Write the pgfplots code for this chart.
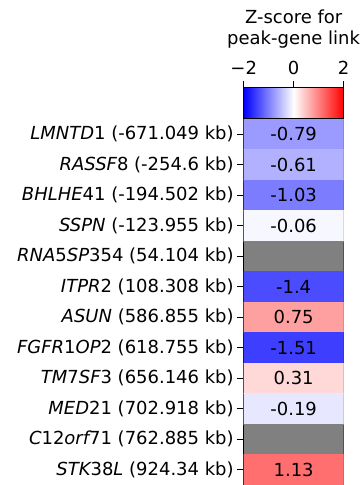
\documentclass[border=0pt]{standalone}
\usepackage{fontspec}
\setmainfont{DejaVu Sans}
\usepackage{pgfplots}
\usepgfplotslibrary{patchplots}
\pgfplotsset{compat=1.18}

\begin{document}
\begin{tikzpicture}[font=\fontsize{18}{21.6}\selectfont]
\begin{axis}[
  at={(0,0)}, anchor=south west,
  scale only axis, width=100pt, height=366.6pt,
  xmin=0, xmax=1, ymin=0, ymax=12, y dir=reverse,
  xtick=\empty,
  ytick={0.5,1.5,...,11.5},
  yticklabels={
    {\itshape LMNTD}1 (-671.049 kb),
    {\itshape RASSF}8 (-254.6 kb),
    {\itshape BHLHE}41 (-194.502 kb),
    {\itshape SSPN} (-123.955 kb),
    {\itshape RNA}5{\itshape SP}354 (54.104 kb),
    {\itshape ITPR}2 (108.308 kb),
    {\itshape ASUN} (586.855 kb),
    {\itshape FGFR}1{\itshape OP}2 (618.755 kb),
    {\itshape TM}7{\itshape SF}3 (656.146 kb),
    {\itshape MED}21 (702.918 kb),
    {\itshape C}12{\itshape orf}71 (762.885 kb),
    {\itshape STK}38{\itshape L} (924.34 kb)},
  ytick pos=left, tick align=outside, major tick length=6.5pt,
  axis line style={line width=1pt, black},
  every tick/.style={line width=1pt, black},
  colormap={bwr}{rgb=(0,0,1) rgb=(1,1,1) rgb=(1,0,0)},
  point meta min=-2, point meta max=2,
  colorbar horizontal,
  colorbar/width=31pt,
  colorbar style={
    at={(0,1)}, anchor=south west, yshift=4.4pt,
    width=100pt,
    xtick={-2,0,2}, xticklabels={−2,0,2},
    xtick pos=upper, xticklabel pos=upper,
    xticklabel style={yshift=3pt},
    tick align=outside, major tick length=6.5pt,
    axis line style={line width=1pt, black},
    every tick/.style={line width=1pt, black},
    ytick=\empty,
    title={Z-score for\\peak-gene link},
    title style={at={(0.5,1)}, anchor=south, yshift=33pt, inner sep=0pt, align=center},
  },
]
% coloured cells: four corners per gene, all carrying its z-score
\addplot[patch, patch type=rectangle, shader=flat, point meta=explicit] table[meta=z] {
x y z
0 0 -0.79
1 0 -0.79
1 1 -0.79
0 1 -0.79
0 1 -0.61
1 1 -0.61
1 2 -0.61
0 2 -0.61
0 2 -1.03
1 2 -1.03
1 3 -1.03
0 3 -1.03
0 3 -0.06
1 3 -0.06
1 4 -0.06
0 4 -0.06
0 5 -1.4
1 5 -1.4
1 6 -1.4
0 6 -1.4
0 6 0.75
1 6 0.75
1 7 0.75
0 7 0.75
0 7 -1.51
1 7 -1.51
1 8 -1.51
0 8 -1.51
0 8 0.31
1 8 0.31
1 9 0.31
0 9 0.31
0 9 -0.19
1 9 -0.19
1 10 -0.19
0 10 -0.19
0 11 1.13
1 11 1.13
1 12 1.13
0 12 1.13
};
% genes without a z-score
\addplot[fill=gray, draw=none] coordinates {(0,4) (1,4) (1,5) (0,5)} -- cycle;
\addplot[fill=gray, draw=none] coordinates {(0,10) (1,10) (1,11) (0,11)} -- cycle;
% value annotations
\addplot[draw=none, mark=none, point meta=explicit symbolic,
  nodes near coords, nodes near coords style={anchor=center, text=black}]
  table[meta=label] {
x y label
0.5 0.5 -0.79
0.5 1.5 -0.61
0.5 2.5 -1.03
0.5 3.5 -0.06
0.5 5.5 -1.4
0.5 6.5 0.75
0.5 7.5 -1.51
0.5 8.5 0.31
0.5 9.5 -0.19
0.5 11.5 1.13
};
\end{axis}
\pgfresetboundingbox
\path[use as bounding box] (-244pt,0pt) rectangle (117pt,485.6pt);
\end{tikzpicture}
\end{document}
